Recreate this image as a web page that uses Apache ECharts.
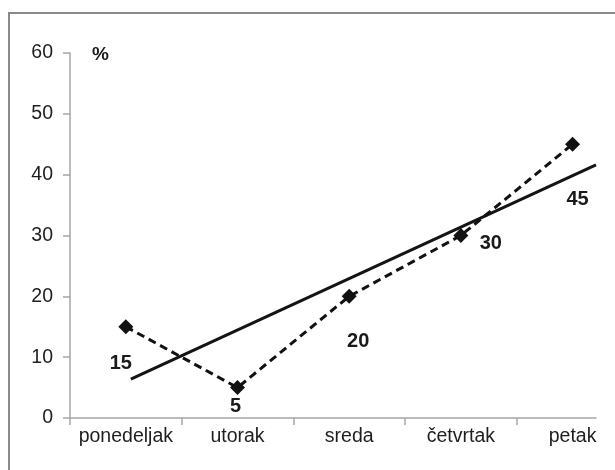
<!DOCTYPE html>
<html>
<head>
<meta charset="utf-8">
<script src="https://cdn.jsdelivr.net/npm/echarts@6/dist/echarts.min.js"></script>
<style>
  html, body { margin: 0; padding: 0; background: #fff; }
  #chart { width: 615px; height: 470px; }
</style>
</head>
<body>
<div id="chart"></div>
<script>
// data
const days = ['ponedeljak', 'utorak', 'sreda', 'četvrtak', 'petak']
const values = [15, 5, 20, 30, 45]
// trend line end points
const trendX = [1.045, 5.21]
const trendY = [6.4, 41.6]

// label placement per point (px, relative to the marker)
const labelOffsets = [[-5, 37], [-2, 19], [9, 45], [30, 8], [5, 55]]

const font = '"Liberation Sans", Arial, sans-serif'
const axisGray = '#a6a6a6'

const chart = echarts.init(document.getElementById('chart'))

chart.setOption({
  animation: false,
  graphic: [{
    type: 'rect',
    shape: { x: 9, y: 13, width: 700, height: 600 },
    style: { fill: 'none', stroke: '#8a8a8a', lineWidth: 2 },
    silent: true
  }, {
    type: 'text',
    left: 92,
    top: 45,
    style: { text: '%', font: 'bold 19px ' + font, fill: '#1a1a1a' }
  }],
  grid: { left: 70, right: 19, top: 53, bottom: 52 },
  xAxis: {
    type: 'value',
    min: 0.5,
    max: 5.21,
    splitLine: { show: false },
    axisLine: { show: true, lineStyle: { color: axisGray, width: 1.5 } },
    axisTick: {
      show: true,
      length: 7,
      customValues: [0.5, 1.5, 2.5, 3.5, 4.5],
      lineStyle: { color: axisGray, width: 1.5 }
    },
    axisLabel: {
      customValues: [1, 2, 3, 4, 5],
      formatter: v => days[Math.round(v) - 1],
      color: '#1e1e1e',
      fontFamily: font,
      fontSize: 19.5,
      margin: 9
    }
  },
  yAxis: {
    type: 'value',
    min: 0,
    max: 60,
    interval: 10,
    splitLine: { show: false },
    axisLine: { show: true, lineStyle: { color: axisGray, width: 1.5 } },
    axisTick: { show: true, length: 7, lineStyle: { color: axisGray, width: 1.5 } },
    axisLabel: { color: '#1e1e1e', fontFamily: font, fontSize: 19.5, margin: 17 }
  },
  series: [
    {
      type: 'line',
      data: trendX.map((x, i) => [x, trendY[i]]),
      symbol: 'none',
      lineStyle: { color: '#141414', width: 3, type: 'solid' },
      z: 2
    },
    {
      type: 'line',
      data: values.map((v, i) => ({
        value: [i + 1, v],
        label: { offset: labelOffsets[i] }
      })),
      symbol: 'diamond',
      symbolSize: 15,
      itemStyle: { color: '#111' },
      lineStyle: { color: '#111', width: 3, type: [8, 5] },
      label: {
        show: true,
        position: 'inside',
        color: '#1a1a1a',
        fontFamily: font,
        fontWeight: 'bold',
        fontSize: 20
      },
      z: 3
    }
  ]
})
</script>
</body>
</html>
